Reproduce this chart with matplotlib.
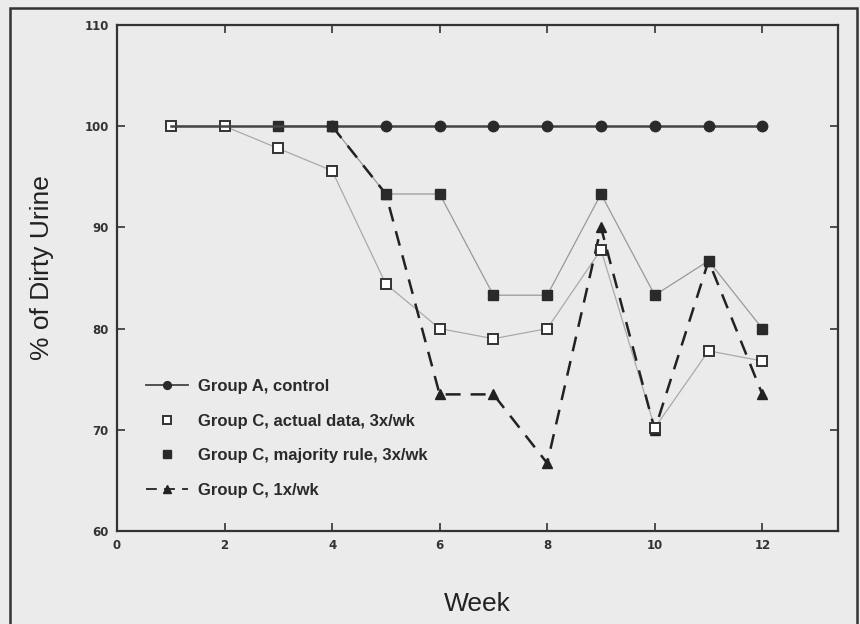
import matplotlib
matplotlib.use("Agg")
import matplotlib.pyplot as plt
from matplotlib.patches import Rectangle

weeks = [1, 2, 3, 4, 5, 6, 7, 8, 9, 10, 11, 12]
group_a = [100, 100, 100, 100, 100, 100, 100, 100, 100, 100, 100, 100]
actual = [100, 100, 97.8, 95.6, 84.4, 80, 79, 80, 87.8, 70.2, 77.8, 76.8]
weeks_3x = [3, 4, 5, 6, 7, 8, 9, 10, 11, 12]
majority = [100, 100, 93.3, 93.3, 83.3, 83.3, 93.3, 83.3, 86.7, 80]
weeks_1x = [4, 5, 6, 7, 8, 9, 10, 11, 12]
once = [100, 93.3, 73.5, 73.5, 66.7, 90, 70, 86.7, 73.5]

plt.rcParams['font.family'] = ['Liberation Sans', 'DejaVu Sans']

bg = '#ebebeb'
fig = plt.figure(figsize=(8.6, 6.24), dpi=100, facecolor=bg)
ax = fig.add_axes([0.136, 0.149, 0.838, 0.811])
ax.set_facecolor(bg)

# thin connecting lines for group C 3x/wk series
ax.plot(weeks, actual, '-', color='#aaaaaa', lw=0.9, zorder=2)
ax.plot(weeks_3x, majority, '-', color='#999999', lw=0.9, zorder=2)

ax.plot(weeks_1x, once, '--^', color='#222222', lw=1.8, ms=7, dashes=(6, 4),
        label='Group C, 1x/wk', zorder=4)
ax.plot(weeks, actual, 's', ms=7.5, mfc='white', mec='#333333', mew=1.4,
        label='Group C, actual data, 3x/wk', zorder=5)
ax.plot(weeks_3x, majority, 's', ms=7.5, mfc='#2a2a2a', mec='#2a2a2a',
        label='Group C, majority rule, 3x/wk', zorder=5)
ax.plot(weeks, group_a, '-o', color='#444444', lw=1.8, ms=7.5, mfc='#2a2a2a',
        mec='#2a2a2a', markevery=list(range(3, 12)),
        label='Group A, control', zorder=6)

ax.set_xlim(0, 13.4)
ax.set_ylim(60, 110)
ax.set_xticks([0, 2, 4, 6, 8, 10, 12])
ax.set_yticks([60, 70, 80, 90, 100, 110])
ax.tick_params(direction='in', top=True, right=True, length=6, width=1.2,
               labelsize=8.5, colors='#333333', pad=6)
for lab in ax.get_xticklabels() + ax.get_yticklabels():
    lab.set_family('DejaVu Sans')
    lab.set_weight('bold')
for s in ax.spines.values():
    s.set_linewidth(1.6)
    s.set_color('#333333')

ax.set_xlabel('Week', fontsize=19, color='#222222')
ax.set_ylabel('% of Dirty Urine', fontsize=19, color='#222222')
ax.xaxis.set_label_coords(0.5, -0.12)
ax.yaxis.set_label_coords(-0.088, 0.52)

h, l = ax.get_legend_handles_labels()
order = [3, 1, 2, 0]
hs = [h[i] for i in order]
leg = ax.legend(hs, [l[i] for i in order], loc='upper left',
                bbox_to_anchor=(0.02, 0.33), frameon=False,
                labelspacing=1.17, handlelength=2.5, handletextpad=0.6,
                markerscale=0.75, prop={'weight': 'bold', 'size': 12})
for t in leg.get_texts():
    t.set_color('#2a2a2a')
for line in leg.get_lines():
    line.set_linewidth(1.3)

fig.patches.append(Rectangle((10 / 860, -0.05), 847 / 860, 1.05 - 8 / 624,
                             transform=fig.transFigure, fill=False,
                             ec='#333333', lw=1.8))

fig.savefig('out.png', dpi=100, facecolor=bg)
